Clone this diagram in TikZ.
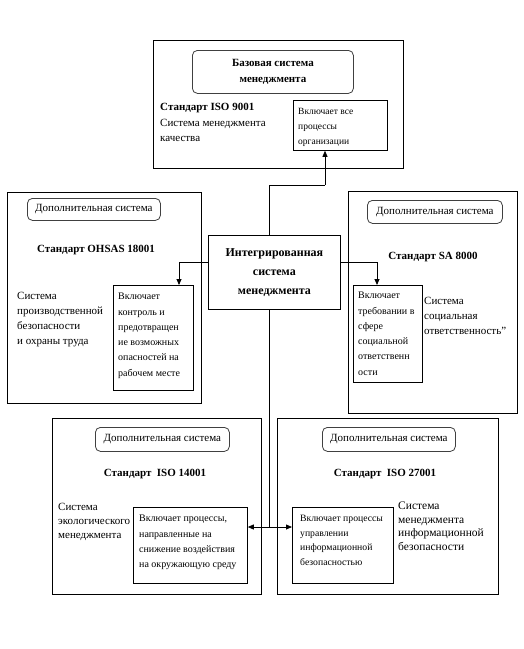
\documentclass[tikz,border=0pt]{standalone}
\usepackage{fontspec}
\setmainfont{Liberation Serif}
\usetikzlibrary{arrows.meta}
\tikzset{
  outer/.style={draw=black, line width=0.8pt, inner sep=0pt, anchor=north west},
  pill/.style={draw=black!75, line width=0.8pt, rounded corners=5pt, inner sep=0pt, anchor=north west, align=center},
  inbox/.style={draw=black, line width=0.8pt, inner sep=0pt, anchor=north west},
  txt/.style={inner sep=0pt, anchor=north west, align=left, font=\fontsize{11}{15}\selectfont},
  intxt/.style={inner sep=0pt, anchor=north west, align=left, font=\fontsize{10}{15.3}\selectfont},
  hdr/.style={inner sep=0pt, font=\bfseries\fontsize{11}{15}\selectfont},
  pilltxt/.style={font=\fontsize{11}{14}\selectfont},
  conn/.style={line width=0.8pt, draw=black},
  tip/.style={-{Triangle[length=6pt,width=5pt]}},
}
\begin{document}
\begin{tikzpicture}[x=1pt,y=-1pt]
\useasboundingbox (0,0) rectangle (523,649);
\fill[white] (0,0) rectangle (523,649);

% ---------- top box ----------
\node[outer, minimum width=250pt, minimum height=128pt] (top) at (153,40) {};
\node[pill, minimum width=161pt, minimum height=43pt, font=\bfseries\fontsize{11}{16}\selectfont] (topp) at (192,50) {Базовая система\\менеджмента};
\node[hdr, anchor=north west] (toph) at (160,103) {Стандарт ISO 9001};
\node[txt] (topt) at (160,119) {Система менеджмента\\качества};
\node[inbox, minimum width=94pt, minimum height=50pt] (incl) at (293,100) {};
\node[intxt, font=\fontsize{9.5}{15}\selectfont] (inclt) at (298,108) {Включает все\\процессы\\организации};

% ---------- center ----------
\node[draw=black, line width=0.8pt, inner sep=0pt, anchor=north west, minimum width=132pt, minimum height=74pt, align=center, font=\bfseries\fontsize{12}{19}\selectfont] (center) at (208,235) {Интегрированная\\система\\менеджмента};

% ---------- left box ----------
\node[outer, minimum width=194pt, minimum height=211pt] (left) at (7,192) {};
\node[pill, pilltxt, minimum width=133pt, minimum height=22pt] (leftp) at (27,198) {Дополнительная система};
\node[hdr] (lefth) at (96,250) {Стандарт OHSAS 18001};
\node[txt] (leftt) at (17,292) {Система\\производственной\\безопасности\\и охраны труда};
\node[inbox, minimum width=80pt, minimum height=105pt] (lin) at (113,285) {};
\node[intxt] (lint) at (118,293) {Включает\\контроль и\\предотвращен\\ие возможных\\опасностей на\\рабочем месте};

% ---------- right box ----------
\node[outer, minimum width=169pt, minimum height=222pt] (right) at (348,191) {};
\node[pill, pilltxt, minimum width=135pt, minimum height=23pt] (rightp) at (367,200) {Дополнительная система};
\node[hdr] (righth) at (433,257) {Стандарт SA 8000};
\node[inbox, minimum width=69pt, minimum height=97pt] (rin) at (353,285) {};
\node[intxt] (rint) at (358,292) {Включает\\требовании в\\сфере\\социальной\\ответственн\\ости};
\node[txt] (rightt) at (424,297) {Система\\социальная\\ответственность"};

% ---------- bottom left ----------
\node[outer, minimum width=209pt, minimum height=176pt] (bl) at (52,418) {};
\node[pill, pilltxt, minimum width=134pt, minimum height=24pt] (blp) at (95,427) {Дополнительная система};
\node[hdr] (blh) at (155,474) {Стандарт\ \ ISO 14001};
\node[txt, font=\fontsize{11}{14}\selectfont] (blt) at (58,503) {Система\\экологического\\менеджмента};
\node[inbox, minimum width=114pt, minimum height=76pt] (blin) at (133,507) {};
\node[intxt] (blint) at (139,515) {Включает процессы,\\направленные на\\снижение воздействия\\на окружающую среду};

% ---------- bottom right ----------
\node[outer, minimum width=221pt, minimum height=176pt] (br) at (277,418) {};
\node[pill, pilltxt, minimum width=133pt, minimum height=24pt] (brp) at (322,427) {Дополнительная система};
\node[hdr] (brh) at (385,474) {Стандарт\ \ ISO 27001};
\node[inbox, minimum width=101pt, minimum height=76pt] (brin) at (292,507) {};
\node[intxt, font=\fontsize{9.7}{14.5}\selectfont] (brint) at (300,515) {Включает процессы\\управлении\\информационной\\безопасностью};
\node[txt, font=\fontsize{11.5}{13.5}\selectfont] (brt) at (398,502) {Система\\менеджмента\\информационной\\безопасности};

% ---------- connectors ----------
\coordinate (jt) at (269,185);
\coordinate (a1) at (325,185);
\draw[conn] (center.north -| jt) -- (jt) -- (a1);
\draw[conn, tip] (a1) -- (a1 |- incl.south);

\coordinate (lj) at (179,262);
\draw[conn, tip] (lj -| center.west) -- (lj) -- (lj |- lin.north);

\coordinate (rj) at (377,262);
\draw[conn, tip] (rj -| center.east) -- (rj) -- (rj |- rin.north);

\coordinate (bj) at (269,527);
\draw[conn] (center.south -| bj) -- (bj);
\draw[conn, {Triangle[length=6pt,width=5pt]}-{Triangle[length=6pt,width=5pt]}] (bj -| blin.east) -- (bj -| brin.west);
\end{tikzpicture}
\end{document}
